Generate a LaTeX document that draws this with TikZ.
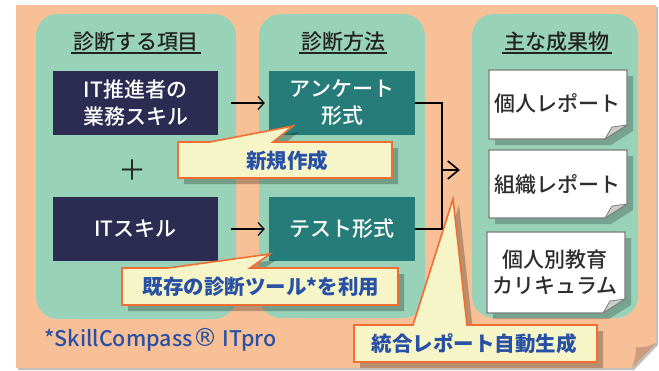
\documentclass[tikz,border=0pt]{standalone}
\usepackage{fontspec}
\usetikzlibrary{arrows.meta}
\IfFontExistsTF{Noto Sans CJK JP Medium}
  {\newfontfamily\jp{Noto Sans CJK JP Medium}}
  {\newfontfamily\jp{Noto Sans CJK JP}}
\newfontfamily\jpb{Noto Sans CJK JP}
\newfontfamily\dejav{DejaVu Sans}
\definecolor{bgorange}{RGB}{248,192,150}
\definecolor{panelgreen}{RGB}{152,210,184}
\definecolor{navy}{RGB}{44,44,82}
\definecolor{tealc}{RGB}{38,124,121}
\definecolor{callfill}{RGB}{245,245,200}
\definecolor{callline}{RGB}{240,110,50}
\definecolor{callblue}{RGB}{40,80,165}
\definecolor{titlegray}{RGB}{35,35,35}
\definecolor{outgray}{RGB}{45,45,45}
\definecolor{boxedge}{RGB}{125,125,125}
\definecolor{flapgray}{RGB}{205,205,205}
\definecolor{curlc}{RGB}{205,155,125}
\newcommand{\mydoc}[4]{%
  \begin{scope}[shift={(6,6)}]
    \fill[black,opacity=0.22] (#1,#2) -- (#3,#2) -- (#3,#4-14) -- (#3-22,#4) -- (#1,#4) -- cycle;
  \end{scope}
  \draw[fill=white,draw=boxedge,line width=1.2pt] (#1,#2) -- (#3,#2) -- (#3,#4-14) -- (#3-22,#4) -- (#1,#4) -- cycle;
  \draw[fill=flapgray,draw=boxedge,line width=0.8pt] (#3,#4-14) -- (#3-22,#4) -- (#3-15,#4-12) -- cycle;
}
\begin{document}
\begin{tikzpicture}[x=1pt,y=-1pt,
  panel/.style={fill=panelgreen,rounded corners=22pt},
  navybox/.style={fill=navy,text=white,minimum width=165pt,minimum height=64pt,align=center,inner sep=0pt,font=\jp\fontsize{21}{27}\selectfont},
  tealbox/.style={fill=tealc,text=white,minimum width=146pt,minimum height=64pt,align=center,inner sep=0pt,font=\jp\fontsize{21}{27}\selectfont},
  titletext/.style={text=titlegray,inner sep=0pt,font=\jp\fontsize{21}{25}\selectfont},
  outtext/.style={text=outgray,inner sep=0pt,align=center,font=\jp\fontsize{21}{26}\selectfont},
  calltext/.style={text=callblue,inner sep=0pt,font=\jpb\bfseries\fontsize{20.5}{24}\selectfont},
  callshape/.style={fill=callfill,draw=callline,line width=1.6pt,line join=miter},
  callshadow/.style={fill=black,opacity=0.25},
  arr/.style={-{Straight Barb[length=6pt,width=13pt,line width=1.2pt]},line width=1.2pt},
  bigarr/.style={-{Straight Barb[length=11pt,width=18pt,line width=1.6pt]},line width=1.6pt},
  uline/.style={line width=1.3pt,titlegray}
  ]
\useasboundingbox (0,0) rectangle (659,370);
% background sheet
\fill[black,opacity=0.25] (18,7) -- (658,7) -- (658,345) -- (634,370) -- (18,370) -- cycle;
\fill[bgorange] (16,5) -- (656,5) -- (656,343) -- (632,368) -- (16,368) -- cycle;
\fill[curlc] (632,368) -- (656,343) .. controls (648,347) and (641,348) .. (636,347) .. controls (636,355) and (634,362) .. cycle;
% panels
\fill[panel] (36,14) rectangle (236,319);
\fill[panel] (259,14) rectangle (425,318);
\fill[panel] (472,14) rectangle (638,318);
% titles
\node[titletext] (t1) at (136,42) {診断する項目};
\node[titletext] (t2) at (343,42) {診断方法};
\node[titletext] (t3) at (557,42) {主な成果物};
\draw[uline] ([xshift=-2pt,yshift=-1pt]t1.south west) -- ([xshift=2pt,yshift=-1pt]t1.south east);
\draw[uline] ([xshift=-2pt,yshift=-1pt]t2.south west) -- ([xshift=2pt,yshift=-1pt]t2.south east);
\draw[uline] ([xshift=-2pt,yshift=-1pt]t3.south west) -- ([xshift=2pt,yshift=-1pt]t3.south east);
% input boxes
\node[navybox] (b1) at (135.5,103) {IT推進者の\\業務スキル};
\node[navybox] (b2) at (135.5,229) {ITスキル};
\node[text=titlegray,inner sep=0pt,font=\jpb\fontsize{28}{28}\selectfont] (plus) at (132,170) {＋};
% method boxes
\node[tealbox] (m1) at (342,103) {アンケート\\形式};
\node[tealbox] (m2) at (342,229) {テスト形式};
% arrows
\draw[arr,shorten <=13pt,shorten >=4pt] (b1) -- (m1);
\draw[arr,shorten <=13pt,shorten >=4pt] (b2) -- (m2);
\coordinate (jt) at (442,103);
\coordinate (jb) at (442,229);
\coordinate (jm) at (442,170);
\coordinate (ja) at (460,170);
\draw[line width=1.4pt,line join=miter] (m1.east) -- (jt) -- (jb) -- (m2.east);
\draw[bigarr] (jm) -- (ja);
% output documents
\mydoc{489}{70}{627}{139}
\mydoc{489}{150}{627}{218}
\mydoc{487}{232}{625}{313}
\node[outtext] (o1) at (557,103) {個人レポート};
\node[outtext] (o2) at (557,184) {組織レポート};
\node[outtext] (o3) at (555,272) {個人別教育\\カリキュラム};
% callouts
\begin{scope}[shift={(6,6)}]
\fill[callshadow] (178,142) -- (210,142) -- (293,126) -- (273,142) -- (392,142) -- (392,178) -- (178,178) -- cycle;
\fill[callshadow] (122,268) -- (168,268) -- (270,254) -- (250,268) -- (398,268) -- (398,305) -- (122,305) -- cycle;
\fill[callshadow] (354,325) -- (413,325) -- (453,199) -- (467,325) -- (597,325) -- (597,362) -- (354,362) -- cycle;
\end{scope}
\draw[callshape] (178,142) -- (210,142) -- (293,126) -- (273,142) -- (392,142) -- (392,178) -- (178,178) -- cycle;
\draw[callshape] (122,268) -- (168,268) -- (270,254) -- (250,268) -- (398,268) -- (398,305) -- (122,305) -- cycle;
\draw[callshape] (354,325) -- (413,325) -- (453,199) -- (467,325) -- (597,325) -- (597,362) -- (354,362) -- cycle;
\node[calltext] (c1) at (287,161) {新規作成};
\node[calltext] (c2) at (261,287) {既存の診断ツール*を利用};
\node[calltext] (c3) at (474,344) {統合レポート自動生成};
% footnote
\node[text=callblue,inner sep=0pt,anchor=west,font=\jp\fontsize{21.5}{24}\selectfont] (fn) at (44,340) {*SkillCompass{\dejav\fontsize{25}{24}\selectfont ®} ITpro};
\end{tikzpicture}
\end{document}
